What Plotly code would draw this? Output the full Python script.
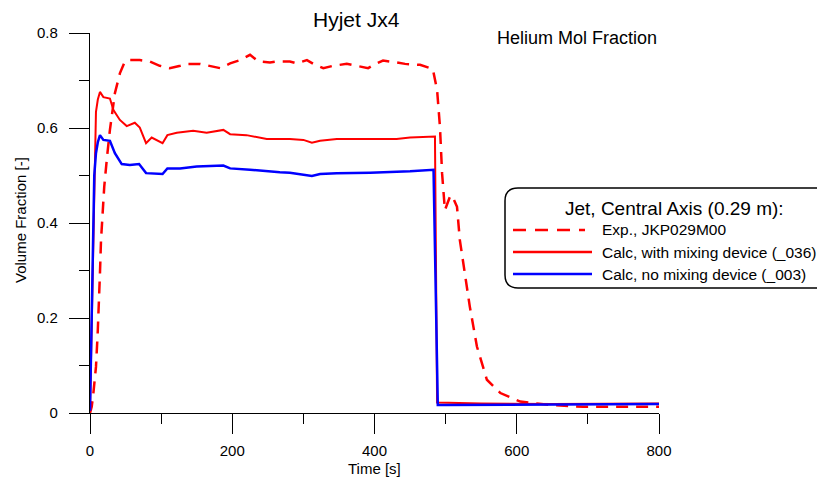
import plotly.graph_objects as go

# ---- data ----
exp_t = [0, 2.4, 4.7, 8.4, 10.8, 12.7, 14, 15.5, 17.3, 20, 24, 28, 35, 42, 49, 56, 70, 84, 98, 112,
         127, 136, 155, 169, 183, 197, 211, 225, 237, 253, 263, 281, 291, 305, 314, 328, 342, 361,
         380, 391, 403, 412, 431, 443, 464, 482, 488, 492, 495, 499, 506, 509, 516, 520, 527, 534,
         544, 558, 577, 605, 647, 693, 800]
exp_v = [0.0, 0.013, 0.041, 0.097, 0.168, 0.23, 0.294, 0.364, 0.42, 0.476, 0.54, 0.596, 0.673, 0.715,
         0.74, 0.743, 0.743, 0.74, 0.731, 0.726, 0.731, 0.735, 0.735, 0.731, 0.726, 0.736, 0.743,
         0.754, 0.74, 0.738, 0.74, 0.74, 0.736, 0.743, 0.735, 0.726, 0.731, 0.735, 0.73, 0.726,
         0.736, 0.742, 0.738, 0.735, 0.733, 0.724, 0.68, 0.603, 0.505, 0.427, 0.455, 0.458, 0.434,
         0.364, 0.294, 0.224, 0.14, 0.07, 0.042, 0.024, 0.017, 0.013, 0.013]

mix_t = [0, 2.5, 5, 7, 8.4, 11, 14, 18.8, 28, 33, 42, 51.6, 63, 70, 78.8, 86.7, 93.8, 102, 108.8,
         122, 145, 164, 187.5, 197, 220, 248.5, 267, 281, 300, 312, 323.5, 347, 394, 431, 450, 485,
         488, 550, 650, 800]
mix_v = [0.005, 0.2, 0.41, 0.58, 0.634, 0.66, 0.676, 0.665, 0.662, 0.638, 0.617, 0.604, 0.611, 0.601,
         0.568, 0.58, 0.575, 0.568, 0.585, 0.59, 0.594, 0.59, 0.596, 0.587, 0.585, 0.577, 0.577,
         0.577, 0.575, 0.569, 0.573, 0.577, 0.577, 0.577, 0.58, 0.582, 0.022, 0.02, 0.019, 0.02]

nomix_t = [0, 2, 4, 6, 8.4, 11, 14, 18.8, 28, 35, 44.6, 56, 69, 78.8, 102, 108.8, 126.6, 150, 187.5,
           197, 225, 253, 267, 281, 300, 312, 323.5, 347, 394, 440, 450, 483, 489, 500, 600, 800]
nomix_v = [0.005, 0.2, 0.4, 0.5, 0.547, 0.57, 0.585, 0.575, 0.573, 0.547, 0.524, 0.522, 0.524, 0.505,
           0.503, 0.515, 0.515, 0.519, 0.521, 0.515, 0.512, 0.508, 0.507, 0.506, 0.502, 0.499, 0.503,
           0.505, 0.506, 0.508, 0.509, 0.512, 0.017, 0.017, 0.018, 0.019]

x_ticks = [0, 200, 400, 600, 800]
y_ticks = [0, 0.2, 0.4, 0.6, 0.8]
y_tick_text = ["0", "0.2", "0.4", "0.6", "0.8"]

legend_title = "Jet, Central Axis (0.29 m):"
names = ["Exp., JKP029M00", "Calc, with mixing device (_036)", "Calc, no mixing device (_003)"]

RED = "#ff0000"
BLUE = "#0000ff"
FONT = "Liberation Sans, Arial, sans-serif"

# the page body has an 8px margin: lay the figure out in page pixels, shifted by OFF
OFF = 8
W, H = 825 - OFF, 479 - OFF
PLOT_X0, PLOT_X1, PLOT_Y0, PLOT_Y1 = 90, 659, 33, 413   # page pixels of the plot area
L, T = PLOT_X0 - OFF, PLOT_Y0 - OFF
R, B = W - (PLOT_X1 - OFF), H - (PLOT_Y1 - OFF)
PW, PH = PLOT_X1 - PLOT_X0, PLOT_Y1 - PLOT_Y0


def px(x):
    return (x - PLOT_X0) / PW


def py(y):
    return (PLOT_Y1 - y) / PH


fig = go.Figure()
fig.add_trace(go.Scatter(x=exp_t, y=exp_v, mode="lines", name=names[0],
                         line=dict(color=RED, width=2.5, dash="12px,8px"), showlegend=False))
fig.add_trace(go.Scatter(x=mix_t, y=mix_v, mode="lines", name=names[1],
                         line=dict(color=RED, width=2), showlegend=False))
fig.add_trace(go.Scatter(x=nomix_t, y=nomix_v, mode="lines", name=names[2],
                         line=dict(color=BLUE, width=2.5), showlegend=False))

axis_common = dict(showgrid=False, zeroline=False, showline=True, linecolor="black", linewidth=1.4,
                   ticks="outside", ticklen=20, tickwidth=1.4, tickcolor="black",
                   tickfont=dict(family=FONT, size=15, color="black"))

fig.update_xaxes(range=[0, 800], tickvals=x_ticks, ticktext=[str(v) for v in x_ticks],
                 minor=dict(ticks="outside", ticklen=10, tickwidth=1.4, tickcolor="black",
                            tickvals=[100, 300, 500, 700]),
                 ticklabelstandoff=4, **axis_common)
fig.update_yaxes(range=[0, 0.8], tickvals=y_ticks, ticktext=y_tick_text,
                 minor=dict(ticks="outside", ticklen=10, tickwidth=1.4, tickcolor="black",
                            tickvals=[0.1, 0.3, 0.5, 0.7]),
                 ticklabelstandoff=8, **axis_common)

# ---- legend drawn as box + samples + labels ----
bx0, by0, by1, bx1, rad = 505, 188, 288, 860, 13
rxp, ryp = rad / PW, rad / PH
x0, x1, y0, y1 = px(bx0), px(bx1), py(by0), py(by1)
path = (f"M{x0 + rxp},{y0} L{x1 - rxp},{y0} Q{x1},{y0} {x1},{y0 - ryp} "
        f"L{x1},{y1 + ryp} Q{x1},{y1} {x1 - rxp},{y1} L{x0 + rxp},{y1} "
        f"Q{x0},{y1} {x0},{y1 + ryp} L{x0},{y0 - ryp} Q{x0},{y0} {x0 + rxp},{y0} Z")
shapes = [dict(type="path", xref="paper", yref="paper", path=path,
               line=dict(color="black", width=1.5), fillcolor="white", layer="above")]
rows_y = [230, 252, 274]
styles = [dict(color=RED, width=2.5, dash="13px,9px"), dict(color=RED, width=2.5),
          dict(color=BLUE, width=2.5)]
ends = [585, 592, 592]
for yy, st, xe in zip(rows_y, styles, ends):
    shapes.append(dict(type="line", xref="paper", yref="paper", x0=px(513), x1=px(xe),
                       y0=py(yy), y1=py(yy), line=st, layer="above"))

annotations = [
    dict(text=legend_title, xref="paper", yref="paper", x=px(674), y=py(208), showarrow=False,
         xanchor="center", yanchor="middle", font=dict(family=FONT, size=19, color="black")),
]
for yy, nm in zip(rows_y, names):
    annotations.append(dict(text=nm, xref="paper", yref="paper", x=px(600), y=py(yy), showarrow=False,
                            xanchor="left", yanchor="middle",
                            font=dict(family=FONT, size=15.5, color="black")))

annotations.append(dict(text="Hyjet Jx4", xref="paper", yref="paper", x=px(356), y=py(19),
                        showarrow=False, xanchor="center", yanchor="middle",
                        font=dict(family=FONT, size=21, color="black")))
annotations.append(dict(text="Helium Mol Fraction", xref="paper", yref="paper", x=px(659), y=py(38),
                        showarrow=False, xanchor="right", yanchor="middle",
                        font=dict(family=FONT, size=18, color="black")))
annotations.append(dict(text="Time [s]", xref="paper", yref="paper", x=0.5, y=py(468),
                        showarrow=False, xanchor="center", yanchor="middle",
                        font=dict(family=FONT, size=15, color="black")))
annotations.append(dict(text="Volume Fraction [-]", xref="paper", yref="paper", x=px(20), y=py(220),
                        showarrow=False, xanchor="center", yanchor="middle", textangle=-90,
                        font=dict(family=FONT, size=15, color="black")))

fig.update_layout(width=W, height=H, margin=dict(l=L, r=R, t=T, b=B, autoexpand=False),
                  plot_bgcolor="white", paper_bgcolor="white",
                  shapes=shapes, annotations=annotations, showlegend=False)

fig.write_html("out.html")
